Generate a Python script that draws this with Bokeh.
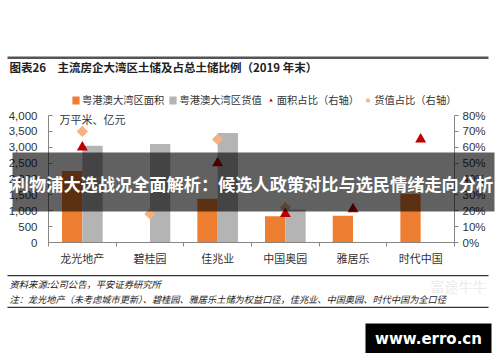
import math
from bokeh.plotting import figure
from bokeh.models import (Range1d, LinearAxis, FixedTicker, NumeralTickFormatter, Label,
                          BoxAnnotation, Legend, LegendItem)
from bokeh.embed import file_html
from bokeh.resources import INLINE

NAN = float("nan")
categories = ["龙光地产", "碧桂园", "佳兆业", "中国奥园", "雅居乐", "时代中国"]
area = [2250, NAN, 1380, 830, 840, 1530]          # 粤港澳大湾区面积 (万平米)
value = [3050, 3100, 3450, 1030, NAN, NAN]        # 粤港澳大湾区货值 (亿元)
area_pct = [0.60, NAN, 0.50, 0.18, 0.21, 0.65]    # 面积占比（右轴）
value_pct = [0.70, 0.18, 0.65, 0.22, NAN, NAN]    # 货值占比（右轴）
left_ticks = [0, 500, 1000, 1500, 2000, 2500, 3000, 3500, 4000]
right_ticks = [0, 0.1, 0.2, 0.3, 0.4, 0.5, 0.6, 0.7, 0.8]

CJK = "Noto Sans CJK SC"
LAT = "Liberation Sans"
W, H = 500, 362
PL, PT, PR, PB = 48, 115, 454, 242   # plot area edges in canvas pixels

n = len(categories)
LMAX, RMAX = left_ticks[-1], right_ticks[-1]


def span(lo, hi, p0, p1, total):
    # range so that value lo sits at pixel p0 and hi at pixel p1 of a frame of size total
    k = (hi - lo) / (p1 - p0)
    return lo - p0 * k, lo + (total - p0) * k


xs, xe = span(0, n, PL, PR, W)
ys, ye = span(0, LMAX, H - PB, H - PT, H)
rs, re = span(0, RMAX, H - PB, H - PT, H)

p = figure(width=W, height=H, output_backend="svg", toolbar_location=None,
           x_range=Range1d(xs, xe), y_range=Range1d(ys, ye),
           x_axis_location=None, y_axis_location=None,
           min_border=0)
p.outline_line_color = None
p.grid.visible = False
p.extra_y_ranges = {"pct": Range1d(rs, re)}

centers = [i + 0.5 for i in range(n)]
r_area = p.vbar(x=[c - 0.15 for c in centers], top=area, width=0.3, fill_color="#ED7D31", line_color=None)
r_val = p.vbar(x=[c + 0.15 for c in centers], top=value, width=0.3, fill_color="#B4B4B4", line_color=None)
r_vp = p.scatter(x=centers, y=value_pct, y_range_name="pct", marker="square", angle=math.pi / 4,
                 size=8, fill_color="#F4B183", line_color=None)
r_ap = p.scatter(x=centers, y=area_pct, y_range_name="pct", marker="triangle", size=11,
                 fill_color="#C00000", line_color=None)

AX = "#868686"
xa = LinearAxis(fixed_location=0, bounds=(0, n),
                ticker=FixedTicker(ticks=centers, minor_ticks=list(range(n + 1))))
xa.major_label_overrides = {c: name for c, name in zip(centers, categories)}
xa.major_tick_in = 0
xa.major_tick_out = 0
xa.minor_tick_in = 0
xa.minor_tick_out = 4
xa.minor_tick_line_color = AX
xa.axis_line_color = AX
xa.major_label_text_font = CJK
xa.major_label_text_font_size = "11px"
xa.major_label_text_color = "#333333"
xa.major_label_standoff = 3
p.add_layout(xa, "below")

ya = LinearAxis(fixed_location=0, bounds=(0, LMAX), ticker=FixedTicker(ticks=left_ticks),
                formatter=NumeralTickFormatter(format="0,0"))
ya.major_tick_in = 4
ya.major_tick_out = 0
ya.minor_tick_line_color = None
ya.axis_line_color = AX
ya.major_tick_line_color = AX
ya.major_label_text_font = LAT
ya.major_label_text_font_size = "11.5px"
ya.major_label_text_color = "#333333"
ya.major_label_standoff = 11
p.add_layout(ya, "left")

yr = LinearAxis(y_range_name="pct", fixed_location=n, bounds=(0, RMAX),
                ticker=FixedTicker(ticks=right_ticks), formatter=NumeralTickFormatter(format="0%"))
yr.major_tick_in = 0
yr.major_tick_out = 4
yr.minor_tick_line_color = None
yr.axis_line_color = AX
yr.major_tick_line_color = AX
yr.major_label_text_font = LAT
yr.major_label_text_font_size = "11.5px"
yr.major_label_text_color = "#333333"
yr.major_label_standoff = 4
p.add_layout(yr, "right")

legend = Legend(items=[LegendItem(label="粤港澳大湾区面积", renderers=[r_area]),
                       LegendItem(label="粤港澳大湾区货值", renderers=[r_val]),
                       LegendItem(label="面积占比（右轴）", renderers=[r_ap]),
                       LegendItem(label="货值占比（右轴）", renderers=[r_vp])],
                orientation="horizontal", location=(71, H - 107),
                glyph_width=9, glyph_height=10, label_height=14, label_standoff=2,
                spacing=4, padding=0, margin=0, border_line_color=None,
                background_fill_alpha=0, label_text_font=CJK, label_text_font_size="10.3px",
                label_text_color="#333333")
p.add_layout(legend, "center")


def lab(px, py, text, size="11px", font=CJK, color="#333333", style="normal", align="left"):
    p.add_layout(Label(x=px, y=H - py, x_units="screen", y_units="screen", text=text,
                       text_font=font, text_font_size=size, text_color=color,
                       text_font_style=style, text_align=align, text_baseline="middle"))


def box(l, r, t, b, color, alpha=1.0):
    p.add_layout(BoxAnnotation(left=l, right=r, top=H - t, bottom=H - b,
                               left_units="screen", right_units="screen",
                               top_units="screen", bottom_units="screen",
                               fill_color=color, fill_alpha=alpha, line_color=None))


box(7, 488, 56, 58.5, "#555555")
lab(9, 66, "图表26", size="11.5px", style="bold", color="#222222")
lab(57, 66, "主流房企大湾区土储及占总土储比例（2019 年末）", size="11.5px", style="bold", color="#222222")
lab(59, 118, "万平米、亿元", size="11px")

box(7, 488, 274.5, 275.8, "#333333")
lab(9, 283, "资料来源:公司公告，平安证券研究所", size="9.3px", style="italic", color="#222222")
lab(9, 298, "注：龙光地产（未考虑城市更新）、碧桂园、雅居乐土储为权益口径，佳兆业、中国奥园、时代中国为全口径",
    size="9.2px", style="italic", color="#222222")
lab(430, 285, "富途牛牛", size="14px", color="#ebebeb")
box(7, 488, 306.2, 307.5, "#333333")

# overlay banner
box(12, 494, 152, 211, "#000000", 0.62)
lab(252, 183, "利物浦大选战况全面解析：候选人政策对比与选民情绪走向分析", size="17.2px",
    style="bold", color="#ffffff", align="center")

# site badge
box(365, 491, 323, 352.5, "#000000")
lab(428, 338, "www.erro.cn", size="15px", font="DejaVu Sans", style="bold", color="#ffffff",
    align="center")

open("out.html", "w").write(file_html(p, INLINE))
